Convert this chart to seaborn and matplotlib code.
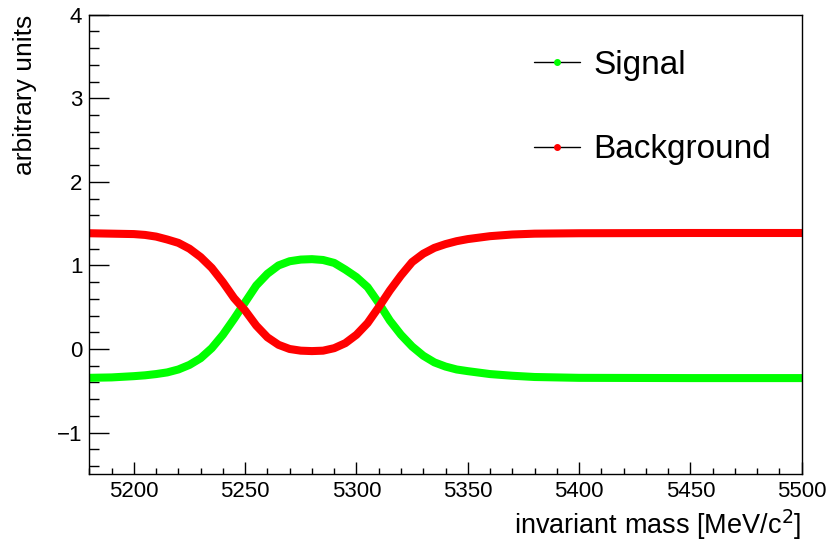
import numpy as np
import pandas as pd
import matplotlib
matplotlib.use("Agg")
import matplotlib.pyplot as plt
from matplotlib.lines import Line2D
from matplotlib.ticker import MultipleLocator
import seaborn as sns

# values
mass = [5180, 5190, 5200, 5205, 5210, 5215, 5220, 5225, 5230, 5235, 5240,
        5245, 5250, 5255, 5260, 5265, 5270, 5275, 5280, 5285, 5290, 5295,
        5300, 5305, 5310, 5315, 5320, 5325, 5330, 5335, 5340, 5345, 5350,
        5360, 5370, 5380, 5400, 5450, 5500]
signal = [-0.345, -0.34, -0.325, -0.315, -0.30, -0.28, -0.245, -0.19, -0.11, 0.01, 0.17,
          0.36, 0.56, 0.76, 0.90, 1.00, 1.05, 1.07, 1.075, 1.065, 1.03, 0.95,
          0.86, 0.74, 0.55, 0.34, 0.17, 0.03, -0.08, -0.16, -0.21, -0.245, -0.265,
          -0.30, -0.32, -0.335, -0.345, -0.348, -0.348]
background = [1.385, 1.38, 1.375, 1.365, 1.345, 1.31, 1.27, 1.20, 1.10, 0.97, 0.80,
              0.61, 0.46, 0.28, 0.14, 0.05, 0.00, -0.02, -0.025, -0.02, 0.01, 0.07,
              0.17, 0.31, 0.50, 0.70, 0.88, 1.04, 1.14, 1.21, 1.255, 1.29, 1.315,
              1.35, 1.37, 1.38, 1.385, 1.388, 1.388]

df = pd.DataFrame({"mass": mass, "Signal": signal, "Background": background})

sns.set_style("white")
plt.rcParams["font.family"] = ["Liberation Sans", "DejaVu Sans"]
plt.rcParams["text.color"] = "black"
plt.rcParams["axes.labelcolor"] = "black"
plt.rcParams["xtick.color"] = "black"
plt.rcParams["ytick.color"] = "black"

fig = plt.figure(figsize=(8.3, 5.44), dpi=100)
ax = fig.add_axes([0.1076, 0.128, 0.8583, 0.845])

sns.lineplot(data=df, x="mass", y="Signal", color="#00ff00", lw=5.8, ax=ax)
sns.lineplot(data=df, x="mass", y="Background", color="#ff0000", lw=5.8, ax=ax)

ax.set_xlim(5180, 5500)
ax.set_ylim(-1.5, 4)

ax.xaxis.set_major_locator(MultipleLocator(50))
ax.xaxis.set_minor_locator(MultipleLocator(10))
ax.yaxis.set_major_locator(MultipleLocator(1))
ax.yaxis.set_minor_locator(MultipleLocator(0.2))

ax.tick_params(axis="both", which="both", direction="in", labelsize=16,
               color="black", width=1, bottom=True, left=True,
               top=False, right=False)
ax.tick_params(axis="x", which="major", length=9, pad=5)
ax.tick_params(axis="x", which="minor", length=4.5)
ax.tick_params(axis="y", which="major", length=14.5, pad=5)
ax.tick_params(axis="y", which="minor", length=7.2)

for s in ax.spines.values():
    s.set_color("black")
    s.set_linewidth(1)

ax.set_xlabel("invariant mass [MeV/c$^2$]", fontsize=19.5, loc="right", labelpad=4)
ax.set_ylabel("arbitrary units", fontsize=19, loc="top", labelpad=14)

handles = [Line2D([], [], color="black", lw=1, marker="o", markersize=4,
                  markerfacecolor="#00ff00", markeredgecolor="#00ff00"),
           Line2D([], [], color="black", lw=1, marker="o", markersize=4,
                  markerfacecolor="#ff0000", markeredgecolor="#ff0000")]
ax.legend(handles, ["Signal", "Background"], loc="upper left",
          bbox_to_anchor=(0.643, 0.908), bbox_transform=fig.transFigure,
          frameon=False, fontsize=24, handlelength=1.4, handletextpad=0.4,
          labelspacing=1.6, borderpad=0, borderaxespad=0)

fig.savefig("out.png", dpi=100)
